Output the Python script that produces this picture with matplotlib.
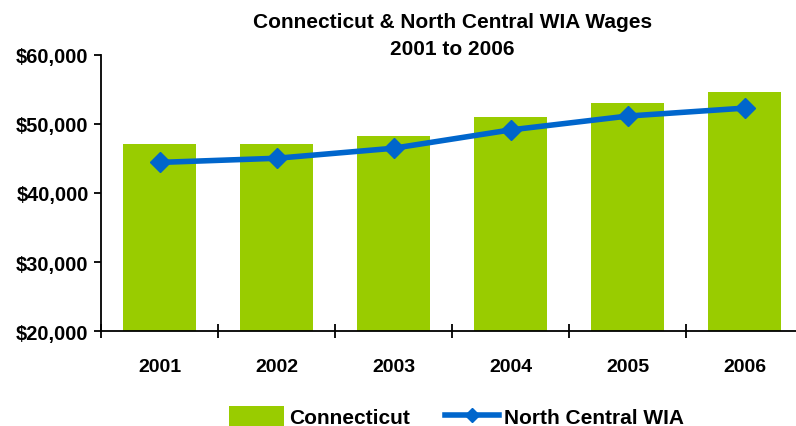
import matplotlib
matplotlib.use("Agg")
import matplotlib.pyplot as plt

# data
years = ["2001", "2002", "2003", "2004", "2005", "2006"]
connecticut = [47000, 47000, 48250, 51000, 53000, 54600]
north_central = [44400, 45000, 46450, 49100, 51100, 52250]

plt.rcParams['font.family'] = ['Liberation Sans', 'DejaVu Sans']
plt.rcParams['font.weight'] = 'bold'

fig = plt.figure(figsize=(7.96, 4.27), dpi=100)
ax = fig.add_axes([0.127, 0.222, 0.882, 0.648])

x = list(range(len(years)))
bars = ax.bar(x, connecticut, width=0.62, color='#99CC00', label='Connecticut', zorder=2)
line, = ax.plot(x, north_central, color='#0066CC', linewidth=4, marker='D', markersize=10,
                label='North Central WIA', zorder=3)

ax.set_ylim(20000, 60000)
ax.set_xlim(-0.5, len(years) - 0.5)
yt = [20000, 30000, 40000, 50000, 60000]
ax.set_yticks(yt)
ax.set_yticklabels(['$%s' % format(v, ',') for v in yt], fontsize=14.5, fontweight='bold')
ax.set_xticks(x)
ax.set_xticklabels(years, fontsize=14, fontweight='bold')
ax.set_xticks([i + 0.5 for i in range(-1, len(years))], minor=True)
ax.tick_params(axis='x', which='major', length=0, pad=19)
ax.tick_params(axis='x', which='minor', direction='inout', length=10, width=1.3)
ax.tick_params(axis='y', direction='out', length=5, width=1.3, pad=4)

for s in ['top', 'right']:
    ax.spines[s].set_visible(False)
for s in ['left', 'bottom']:
    ax.spines[s].set_linewidth(1.3)

fig.text(0.568, 0.97, "Connecticut & North Central WIA Wages\n2001 to 2006",
         ha='center', va='top', fontsize=15, fontweight='bold', linespacing=1.55)

fig.legend(handles=[bars, line], loc='center', bbox_to_anchor=(0.574, 0.022), ncol=2,
           frameon=False, handlelength=2.6, handleheight=1.1, columnspacing=1.7,
           handletextpad=0.25, markerscale=0.7, prop={'weight': 'bold', 'size': 15})

fig.savefig('out.png', dpi=100)
